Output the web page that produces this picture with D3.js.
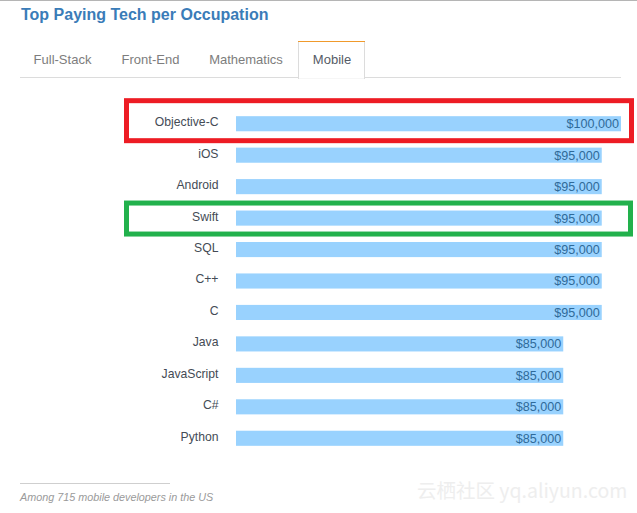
<!DOCTYPE html>
<html>
<head>
<meta charset="utf-8">
<script src="https://cdn.jsdelivr.net/npm/d3@7/dist/d3.min.js"></script>
<style>
  html, body { margin: 0; padding: 0; background: #fff; }
  svg { display: block; font-family: "Liberation Sans", Arial, sans-serif; }
</style>
</head>
<body>
<div id="vis"></div>
<script>
// chart data
const TECHS = ["Objective-C", "iOS", "Android", "Swift", "SQL", "C++", "C", "Java", "JavaScript", "C#", "Python"];
const SALARIES = [100000, 95000, 95000, 95000, 95000, 95000, 95000, 85000, 85000, 85000, 85000];
const TABS = ["Full-Stack", "Front-End", "Mathematics", "Mobile"];
const TAB_X = [62.5, 150.5, 246, 332];

const FRAME_WIDTH = 637;
const FRAME_HEIGHT = 513;

const FRAME = d3.select("#vis")
  .append("svg")
    .attr("width", FRAME_WIDTH)
    .attr("height", FRAME_HEIGHT);

// scales
const X_SCALE = d3.scaleLinear().domain([0, 100000]).range([236, 621]);
const Y_SCALE = d3.scaleBand()
  .domain(TECHS)
  .range([108, 454])
  .paddingInner(0.52)
  .paddingOuter(0.26);

// header
FRAME.append("rect").attr("x", 0).attr("y", 0).attr("width", FRAME_WIDTH).attr("height", 1).attr("fill", "#b5b5b5");
FRAME.append("text")
  .attr("x", 21).attr("y", 20)
  .attr("font-size", 16).attr("font-weight", "bold").attr("fill", "#3a7cb8")
  .text("Top Paying Tech per Occupation");

// tabs
FRAME.append("line").attr("x1", 20).attr("x2", 621).attr("y1", 77.5).attr("y2", 77.5).attr("stroke", "#dcdcdc");
FRAME.append("rect").attr("x", 298.5).attr("y", 41.5).attr("width", 66).attr("height", 37)
  .attr("fill", "#fff").attr("stroke", "#dcdcdc");
FRAME.append("line").attr("x1", 298).attr("x2", 365).attr("y1", 41.5).attr("y2", 41.5).attr("stroke", "#f09a2c");
FRAME.append("line").attr("x1", 299).attr("x2", 364).attr("y1", 78).attr("y2", 78).attr("stroke", "#fff").attr("stroke-width", 1.5);
FRAME.selectAll(".tab")
  .data(TABS)
  .enter()
  .append("text")
    .attr("class", "tab")
    .attr("x", (d, i) => TAB_X[i])
    .attr("y", 64)
    .attr("text-anchor", "middle")
    .attr("font-size", 13)
    .attr("fill", (d) => d === "Mobile" ? "#555b66" : "#7d7d7d")
    .text((d) => d);

// bars
const ROWS = TECHS.map((d, i) => ({ tech: d, salary: SALARIES[i] }));

FRAME.selectAll(".bar")
  .data(ROWS)
  .enter()
  .append("rect")
    .attr("class", "bar")
    .attr("x", X_SCALE(0))
    .attr("y", (d) => Y_SCALE(d.tech))
    .attr("width", (d) => X_SCALE(d.salary) - X_SCALE(0))
    .attr("height", Y_SCALE.bandwidth())
    .attr("fill", "#99d2fe");

// tech labels, they sit a bit above the bar centre
FRAME.selectAll(".label")
  .data(ROWS)
  .enter()
  .append("text")
    .attr("class", "label")
    .attr("x", 218.5)
    .attr("y", (d) => Y_SCALE(d.tech) + 10)
    .attr("text-anchor", "end")
    .attr("font-size", 12.2)
    .attr("fill", "#444b55")
    .text((d) => d.tech);

// values inside the bar end
FRAME.selectAll(".value")
  .data(ROWS)
  .enter()
  .append("text")
    .attr("class", "value")
    .attr("x", (d) => X_SCALE(d.salary) - 2)
    .attr("y", (d) => Y_SCALE(d.tech) + 12)
    .attr("text-anchor", "end")
    .attr("font-size", 12.6)
    .attr("fill", "#2f6a99")
    .text((d) => d3.format("$,")(d.salary));

// highlight boxes around Objective-C and Swift
FRAME.append("rect")
  .attr("x", 126.5)
  .attr("y", Y_SCALE("Objective-C") - 15.5)
  .attr("width", 505).attr("height", 40)
  .attr("fill", "none").attr("stroke", "#ed1c24").attr("stroke-width", 5);
FRAME.append("rect")
  .attr("x", 126.5)
  .attr("y", Y_SCALE("Swift") - 7.5)
  .attr("width", 504).attr("height", 31)
  .attr("fill", "none").attr("stroke", "#22b14c").attr("stroke-width", 5);

// footnote
FRAME.append("line").attr("x1", 20).attr("x2", 170).attr("y1", 483.5).attr("y2", 483.5).attr("stroke", "#cfcfcf");
FRAME.append("text")
  .attr("x", 20).attr("y", 501)
  .attr("font-size", 10.8).attr("font-style", "italic").attr("fill", "#9a9a9a")
  .text("Among 715 mobile developers in the US");

// watermark
FRAME.append("text")
  .attr("x", 417).attr("y", 498)
  .attr("font-size", 19.5).attr("fill", "#eeeeee")
  .attr("font-family", "'Noto Sans CJK SC', sans-serif")
  .text("云栖社区 yq.aliyun.com");
</script>
</body>
</html>
